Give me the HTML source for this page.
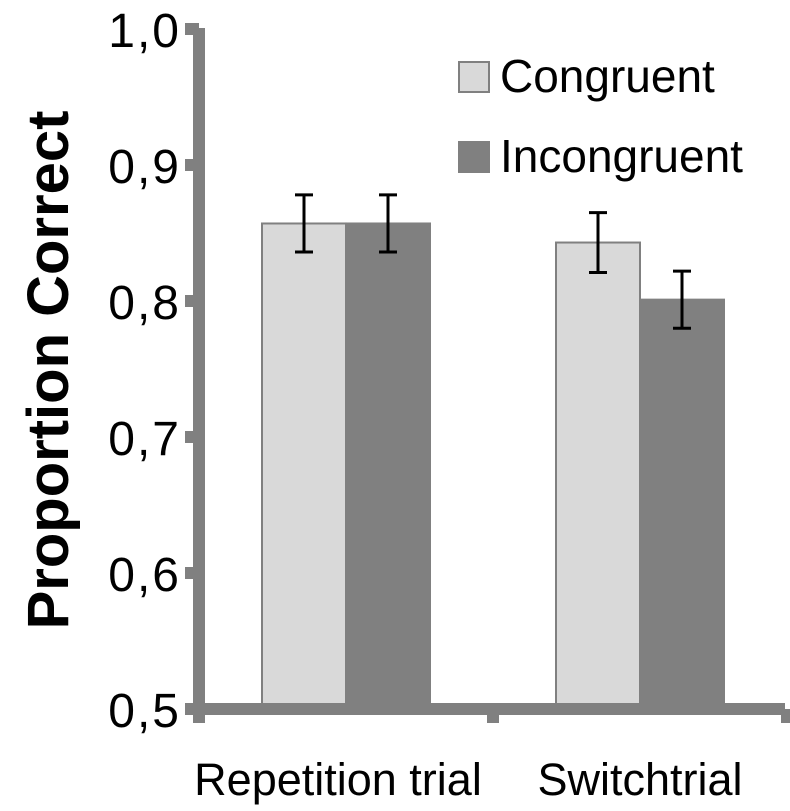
<!DOCTYPE html>
<html><head><meta charset="utf-8"><style>
html,body{margin:0;padding:0;background:#fff;}
svg{display:block;font-family:"Liberation Sans",Arial,sans-serif;}
</style></head><body>
<svg id="chart" width="790" height="811" viewBox="0 0 790 811" xmlns="http://www.w3.org/2000/svg">
<g id="plot"></g>
</svg>
<script>
const categories = ["Repetition trial", "Switchtrial"];
const series = ["Congruent", "Incongruent"];
const congruent = [0.857, 0.843];
const incongruent = [0.857, 0.801];
const congruentErr = [0.021, 0.022];
const incongruentErr = [0.021, 0.021];
const yTicks = [0.5, 0.6, 0.7, 0.8, 0.9, 1.0];
const yTickLabels = ["0,5", "0,6", "0,7", "0,8", "0,9", "1,0"];

const NS = "http://www.w3.org/2000/svg";
const g = document.getElementById('plot');
function el(tag, attrs, parent){const e=document.createElementNS(NS,tag);for(const k in attrs)e.setAttribute(k,attrs[k]);(parent||g).appendChild(e);return e;}
const y0 = 709, yTop = 29, vMin = 0.5, vMax = 1.0;
function y(v){return y0 - (v - vMin) / (vMax - vMin) * (y0 - yTop);}
const catStart = 199, catWidth = 294;
function xCat(i){return catStart + i * catWidth;}
const barW = 84, gap0 = 63;
const vals = [congruent, incongruent], errs = [congruentErr, incongruentErr];
const fills = ["#d9d9d9", "#808080"];

for (let i = 0; i < categories.length; i++) {
  for (let s = 0; s < 2; s++) {
    const x = xCat(i) + gap0 + s * barW;
    const r = el('rect', {x: x, y: y(vals[s][i]), width: barW, height: y0 - y(vals[s][i]), fill: fills[s], stroke: "#808080", "stroke-width": 2});
    
    
  }
}
const ya = el('rect', {x: 193, y: 28, width: 12, height: 687, fill: "#808080"});


const xa = el('rect', {x: 185, y: 703, width: 600, height: 12, fill: "#808080"});


for (let i = 0; i <= categories.length; i++) {
  const t = el('rect', {x: xCat(i) - 6, y: 709, width: 12, height: 14, fill: "#808080"});
  
  
}
yTicks.forEach((v, k) => {
  const t = el('rect', {x: 185, y: y(v) - 6, width: 14, height: 12, fill: "#808080"});
  
  
  const l = el('text', {x: 181, y: y(v) + 18, "text-anchor": "end", "font-size": 48, "letter-spacing": 2, fill: "#000"});
  l.textContent = yTickLabels[k];
  
  
});
for (let i = 0; i < categories.length; i++) {
  for (let s = 0; s < 2; s++) {
    const cx = xCat(i) + gap0 + s * barW + barW / 2;
    const hi = y(vals[s][i] + errs[s][i]), lo = y(vals[s][i] - errs[s][i]);
    const eg = el('g', {stroke: "#000", "stroke-width": 3});
    
    
    el('line', {x1: cx, x2: cx, y1: hi, y2: lo}, eg);
    el('line', {x1: cx - 9, x2: cx + 9, y1: hi, y2: hi}, eg);
    el('line', {x1: cx - 9, x2: cx + 9, y1: lo, y2: lo}, eg);
  }
}
categories.forEach((c, i) => {
  const l = el('text', {x: xCat(i) + gap0 + barW - 8 + i * 8, y: 795, "text-anchor": "middle", "font-size": 45, fill: "#000"});
  l.textContent = c;
  
  
});
series.forEach((s, k) => {
  const ly = 62 + k * 80;
  const r = el('rect', {x: 459, y: ly, width: 30, height: 30, fill: fills[k], stroke: "#808080", "stroke-width": 2});
  
  
  const t = el('text', {x: 500, y: ly + 30, "font-size": 46, fill: "#000"});
  t.textContent = s;
  
  
});
const yt = el('text', {x: 0, y: 0, transform: "translate(68,370) rotate(-90)", "text-anchor": "middle", "font-size": 58, "font-weight": "bold", fill: "#000"});
yt.textContent = "Proportion Correct";


</script>
</body></html>
